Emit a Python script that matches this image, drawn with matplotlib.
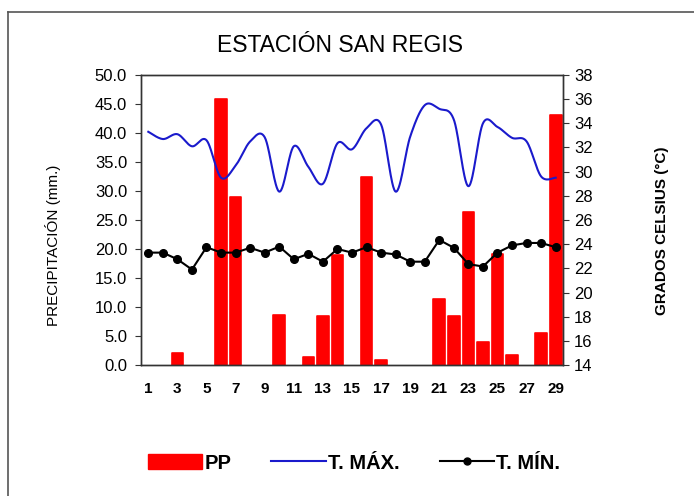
import numpy as np
import matplotlib
matplotlib.use("Agg")
import matplotlib.pyplot as plt
from matplotlib.lines import Line2D
from matplotlib.patches import Patch

plt.rcParams['font.family'] = ['Liberation Sans', 'DejaVu Sans']

# daily data, station San Regis
dias = list(range(1, 30))
pp = [0, 0, 2.1, 0, 0, 45.9, 29.0, 0, 0, 8.6, 0, 1.4, 8.4, 19.0, 0,
      32.4, 0.9, 0, 0, 0, 11.3, 8.4, 26.4, 4.0, 19.2, 1.7, 0, 5.6, 43.1]
t_max = [33.3, 32.7, 33.1, 32.1, 32.6, 29.5, 30.5, 32.5, 32.85, 28.35,
         32.1, 30.4, 29.0, 32.35, 31.85, 33.6, 33.9, 28.35, 32.9, 35.5,
         35.2, 34.3, 28.8, 34.0, 33.7, 32.8, 32.5, 29.6, 29.5]
t_min = [23.3, 23.3, 22.75, 21.9, 23.75, 23.3, 23.3, 23.7, 23.3, 23.8,
         22.75, 23.2, 22.55, 23.6, 23.3, 23.75, 23.3, 23.15, 22.55, 22.55,
         24.35, 23.7, 22.35, 22.15, 23.3, 23.9, 24.1, 24.1, 23.75]


# Excel-like smoothed line (Catmull-Rom as cubic Bezier segments)
def smooth(x, y, n=30):
    x = np.asarray(x, float)
    y = np.asarray(y, float)
    px = np.concatenate([[x[0]], x, [x[-1]]])
    py = np.concatenate([[y[0]], y, [y[-1]]])
    xs, ys = [], []
    t = np.linspace(0, 1, n)
    for i in range(1, len(px) - 2):
        p0 = np.array([px[i], py[i]])
        p3 = np.array([px[i + 1], py[i + 1]])
        b1 = p0 + (np.array([px[i + 1], py[i + 1]]) - np.array([px[i - 1], py[i - 1]])) / 6
        b2 = p3 - (np.array([px[i + 2], py[i + 2]]) - np.array([px[i], py[i]])) / 6
        pts = ((1 - t) ** 3)[:, None] * p0 + (3 * (1 - t) ** 2 * t)[:, None] * b1 \
            + (3 * (1 - t) * t ** 2)[:, None] * b2 + (t ** 3)[:, None] * p3
        xs.extend(pts[:, 0])
        ys.extend(pts[:, 1])
    return np.array(xs), np.array(ys)


fig = plt.figure(figsize=(6.94, 4.96), dpi=100)
ax = fig.add_axes([0.2032, 0.2641, 0.608, 0.5847])
ax2 = ax.twinx()

# no outline on empty days, otherwise a thin red line shows at zero
ax.bar(dias, pp, width=0.8, color='#ff0000', edgecolor='#ff0000',
       linewidth=[1.2 if v > 0 else 0 for v in pp], joinstyle='round', zorder=2)
ax.set_xlim(0.5, 29.5)
ax.set_ylim(0, 50)
ax.set_yticks(np.arange(0, 50.1, 5))
ax.set_yticklabels([f'{v:.1f}' for v in np.arange(0, 50.1, 5)])
ax.set_xticks(dias[::2])
ax.set_xticklabels([str(d) for d in dias[::2]], fontweight='bold')
ax.tick_params(axis='x', length=0, pad=12, labelsize=11)
ax.tick_params(axis='y', length=4, pad=6, labelsize=12, color='#333333')
ax.set_ylabel('PRECIPITACIÓN (mm.)', fontsize=11)
ax.yaxis.set_label_coords(-0.19, 0.414)

xs, ys = smooth(dias, t_max)
ax2.plot(xs, ys, color='#1a1acc', linewidth=1.5, zorder=3)
ax2.plot(dias, t_min, color='black', linewidth=1.5, marker='o',
         markersize=5.5, zorder=4)
ax2.set_ylim(14, 38)
ax2.set_yticks(range(14, 39, 2))
ax2.tick_params(axis='y', length=4, pad=4, labelsize=12, color='#333333')
ax2.set_ylabel('GRADOS CELSIUS (°C)', fontsize=11, fontweight='bold',
               rotation=90)
ax2.yaxis.set_label_coords(1.218, 0.462)

for a in (ax, ax2):
    for s in a.spines.values():
        s.set_color('#333333')
        s.set_linewidth(1)

fig.text(0.49, 0.908, 'ESTACIÓN SAN REGIS', ha='center', va='center',
         fontsize=16.5)

handles = [Patch(facecolor='#ff0000', edgecolor='#ff0000', joinstyle='round'),
           Line2D([], [], color='#1a1acc', linewidth=1.5),
           Line2D([], [], color='black', linewidth=1.5, marker='o', markersize=5)]
fig.legend(handles, ['PP', 'T. MÁX.', 'T. MÍN.'], loc='center',
           bbox_to_anchor=(0.51, 0.066), ncol=3, frameon=False,
           prop={'weight': 'bold', 'size': 14.5}, handlelength=2.7,
           handleheight=0.8, handletextpad=0.1, columnspacing=2.0)

# outer chart border (top and left visible)
fig.add_artist(Line2D([8 / 694, 8 / 694], [0, 1 - 12 / 496], color='#555555',
                      linewidth=1.2, transform=fig.transFigure))
fig.add_artist(Line2D([8 / 694, 1], [1 - 12 / 496, 1 - 12 / 496], color='#555555',
                      linewidth=1.2, transform=fig.transFigure))

fig.savefig('out.png', dpi=100)
